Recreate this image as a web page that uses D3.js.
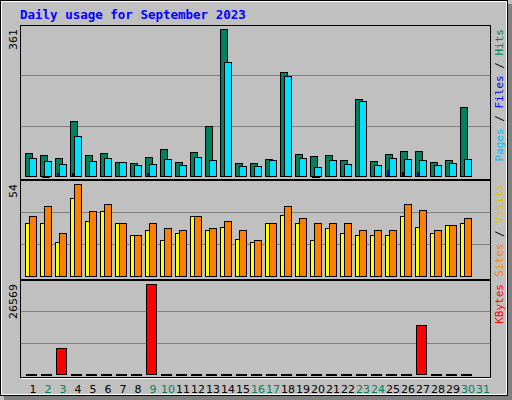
<!DOCTYPE html>
<html><head><meta charset="utf-8">
<script src="https://cdn.jsdelivr.net/npm/d3@7/dist/d3.min.js"></script>
<style>body{margin:0;background:#fff}svg{display:block}</style>
</head><body>
<script>
// values, one entry per day of September 2023
var days   = d3.range(1, 32);
var hits   = [57,52,45,135,52,57,35,33,47,67,35,60,123,361,33,33,42,255,55,50,52,40,189,38,55,62,62,35,40,169,0];
var files  = [45,38,30,99,38,45,35,28,30,42,28,47,40,281,25,25,40,245,45,23,40,30,184,28,45,42,40,28,33,42,0];
var pages  = [0,1,7,7,0,0,0,0,7,0,0,0,0,0,0,0,0,0,0,1,0,0,0,0,15,10,11,0,0,0,0];
var sites  = [31,31,20,46,32,38,31,24,27,21,25,35,27,29,22,20,31,36,31,21,28,25,24,24,24,35,29,25,30,31,0];
var visits = [35,41,25,54,38,42,31,24,31,28,27,35,28,32,27,21,31,41,34,31,31,31,27,27,27,42,39,27,30,34,0];
var kbytes = [60,60,7617,60,60,60,60,60,26569,60,60,60,60,60,60,60,60,60,60,60,60,60,60,60,60,60,14560,60,60,60,0];
var weekend = [2,3,9,10,16,17,23,24,30,31];

var W = 512, H = 400;
var svg = d3.select("body").append("svg").attr("width", W).attr("height", H);

// frame
svg.append("rect").attr("width", W).attr("height", H).attr("fill", "#c0c0c0");
svg.append("rect").attr("x", 508).attr("y", 4).attr("width", 4).attr("height", 396).attr("fill", "#808080");
svg.append("rect").attr("x", 4).attr("y", 396).attr("width", 508).attr("height", 4).attr("fill", "#808080");
svg.append("rect").attr("x", 0.5).attr("y", 0.5).attr("width", 507).attr("height", 395)
  .attr("fill", "none").attr("stroke", "#000");
svg.append("rect").attr("x", 1.5).attr("y", 1.5).attr("width", 505).attr("height", 393)
  .attr("fill", "none").attr("stroke", "#fff");

svg.append("text").attr("x", 20).attr("y", 19)
  .attr("font-family", "DejaVu Sans Mono").attr("font-weight", "bold").attr("font-size", 12.5)
  .attr("fill", "#0000ff").text("Daily usage for September 2023");

var x = d3.scaleBand().domain(days).range([25, 490]).paddingInner(0).paddingOuter(0);
var slot = function(d) { return x(d); };

function panel(top, bottom, maxTop, max, labels) {
  svg.append("rect").attr("x", 20.5).attr("y", top + 0.5).attr("width", 470).attr("height", bottom - top)
    .attr("fill", "#c0c0c0").attr("stroke", "#000");
  svg.append("line").attr("x1", 21).attr("x2", 491).attr("y1", bottom + 1.5).attr("y2", bottom + 1.5).attr("stroke", "#fff");
  var base = bottom - 3;
  var y = d3.scaleLinear().domain([0, max]).range([base, maxTop]);
  [1, 2].forEach(function(k) {
    var gy = Math.round(base - (base - top) * k / 3) + 0.5;
    svg.append("line").attr("x1", 21).attr("x2", 490).attr("y1", gy).attr("y2", gy).attr("stroke", "#808080");
  });
  svg.append("text").attr("transform", "translate(17," + (top + 4) + ") rotate(-90)")
    .attr("text-anchor", "end").attr("font-family", "DejaVu Sans").attr("font-size", 11)
    .attr("fill", "#000").text(max);
  var t = svg.append("text").attr("transform", "translate(503," + (top + 4) + ") rotate(-90)")
    .attr("text-anchor", "end").attr("font-family", "DejaVu Sans Mono").attr("font-size", 11);
  labels.forEach(function(l, i) {
    if (i) t.append("tspan").attr("fill", "#000").text(" / ");
    t.append("tspan").attr("fill", l[1]).text(l[0]);
  });
  return y;
}

function bars(y, data, dx, w, color) {
  svg.append("g").selectAll("rect").data(days.filter(function(d, i) { return data[i] > 0; })).enter()
    .append("rect")
    .attr("x", function(d) { return slot(d) + dx + 0.5; })
    .attr("y", function(d) { return Math.round(y(data[d - 1])) + 0.5; })
    .attr("width", w)
    .attr("height", function(d) { return Math.max(1, Math.round(y(0) - y(data[d - 1]))); })
    .attr("fill", color).attr("stroke", "#000");
}

var y1 = panel(25, 179, 29, 361, [["Pages", "#00c0ff"], ["Files", "#0000ff"], ["Hits", "#00805c"]]);
bars(y1, hits, 0, 7, "#00805c");
bars(y1, pages, 2, 7, "#0000ff");
bars(y1, files, 4, 7, "#00e0ff");

var y2 = panel(180, 279, 184, 54, [["Sites", "#ff8000"], ["Visits", "#e0c000"]]);
bars(y2, sites, 0, 7, "#ffff00");
bars(y2, visits, 4, 7, "#ff8000");

var y3 = panel(280, 377, 284, 26569, [["KBytes", "#ff0000"]]);
bars(y3, kbytes, 1, 10, "#ff0000");

svg.append("g").selectAll("text").data(days).enter().append("text")
  .attr("x", function(d) { return slot(d) + 8; }).attr("y", 393)
  .attr("text-anchor", "middle").attr("font-family", "DejaVu Sans").attr("font-size", 11)
  .attr("fill", function(d) { return weekend.indexOf(d) >= 0 ? "#00805c" : "#000"; })
  .text(function(d) { return d; });
</script>
</body></html>
